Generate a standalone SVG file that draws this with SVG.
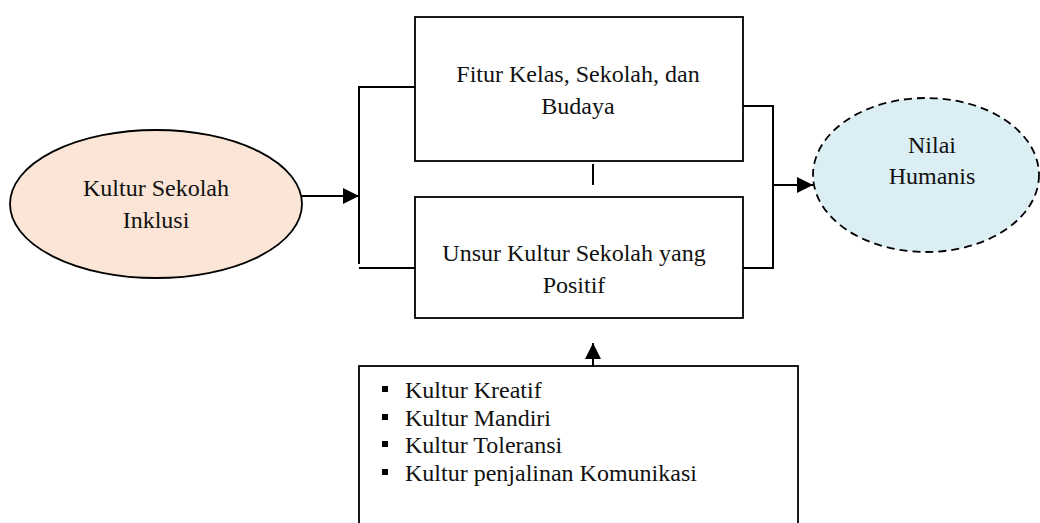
<svg xmlns="http://www.w3.org/2000/svg" width="1040" height="523" viewBox="0 0 1040 523">
<defs>
<marker id="ah" viewBox="0 0 16 16" refX="16" refY="8" markerWidth="16" markerHeight="16" markerUnits="userSpaceOnUse" orient="auto">
<path d="M0,0 L16,8 L0,16 Z" fill="#000"/>
</marker>
</defs>
<style>
text{font-family:"Liberation Serif","Times New Roman",serif;font-size:24px;fill:#111;}
.c{text-anchor:middle;}
.box{fill:#fff;stroke:#000;stroke-width:1.8;}
.ln{fill:none;stroke:#000;stroke-width:2;}
</style>
<rect width="1040" height="523" fill="#fff"/>
<g id="kultur-sekolah-inklusi">
<ellipse cx="156" cy="204" rx="146" ry="74" fill="#FBE5D6" stroke="#000" stroke-width="1.8"/>
<text class="c" x="156" y="196">Kultur Sekolah</text>
<text class="c" x="156" y="228">Inklusi</text>
</g>
<g id="fitur-kelas">
<rect class="box" x="415" y="17" width="328" height="144"/>
<text class="c" x="578" y="82">Fitur Kelas, Sekolah, dan</text>
<text class="c" x="578" y="114">Budaya</text>
</g>
<g id="unsur-kultur">
<rect class="box" x="415" y="197" width="328" height="121"/>
<text class="c" x="574" y="261">Unsur Kultur Sekolah yang</text>
<text class="c" x="574" y="293">Positif</text>
</g>
<g id="nilai-humanis">
<ellipse cx="926" cy="175" rx="113" ry="77" fill="#DAEEF3" stroke="#000" stroke-width="1.8" stroke-dasharray="8,5"/>
<text class="c" x="932" y="153">Nilai</text>
<text class="c" x="932" y="184">Humanis</text>
</g>
<g id="daftar-kultur">
<rect class="box" x="359" y="366" width="439" height="180"/>
<rect x="382" y="386" width="6" height="6" fill="#000"/>
<rect x="382" y="414" width="6" height="6" fill="#000"/>
<rect x="382" y="441" width="6" height="6" fill="#000"/>
<rect x="382" y="469" width="6" height="6" fill="#000"/>
<text x="405" y="398">Kultur Kreatif</text>
<text x="405" y="426">Kultur Mandiri</text>
<text x="405" y="453">Kultur Toleransi</text>
<text x="405" y="481">Kultur penjalinan Komunikasi</text>
</g>
<g id="connectors">
<line class="ln" x1="301" y1="196" x2="359" y2="196" marker-end="url(#ah)"/>
<polyline class="ln" points="415,87 359,87 359,264"/>
<line class="ln" x1="359" y1="268" x2="415" y2="268"/>
<line class="ln" x1="593" y1="164" x2="593" y2="185"/>
<polyline class="ln" points="743,106 773,106 773,268 743,268"/>
<line class="ln" x1="773" y1="185" x2="813" y2="185" marker-end="url(#ah)"/>
<line class="ln" x1="593" y1="366" x2="593" y2="343" marker-end="url(#ah)"/>
</g>
</svg>
